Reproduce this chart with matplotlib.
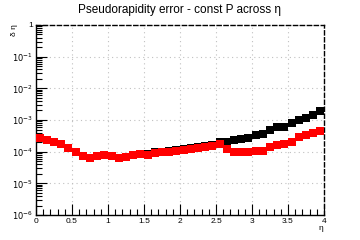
import numpy as np
import matplotlib
matplotlib.use("Agg")
import matplotlib.pyplot as plt
from matplotlib.ticker import FixedLocator, FixedFormatter, LogLocator, NullFormatter, MultipleLocator

plt.rcParams['font.family'] = ['Liberation Sans', 'DejaVu Sans']

eta = np.arange(40) * 0.1 + 0.05

red = [2.70e-4, 2.34e-4, 2.02e-4, 1.75e-4, 1.31e-4, 9.8e-5, 7.3e-5, 6.3e-5, 7.3e-5, 7.9e-5,
       7.3e-5, 6.3e-5, 6.8e-5, 7.9e-5, 8.5e-5, 7.9e-5, 9.1e-5, 9.8e-5, 9.8e-5, 1.05e-4,
       1.13e-4, 1.21e-4, 1.31e-4, 1.41e-4, 1.51e-4, 1.75e-4, 1.21e-4, 9.8e-5, 9.8e-5, 9.8e-5,
       1.05e-4, 1.05e-4, 1.41e-4, 1.63e-4, 1.75e-4, 2.02e-4, 2.90e-4, 3.36e-4, 3.89e-4, 4.50e-4]

black = [2.70e-4, 2.34e-4, 2.02e-4, 1.75e-4, 1.31e-4, 9.8e-5, 7.3e-5, 6.3e-5, 7.3e-5, 7.9e-5,
         7.3e-5, 6.3e-5, 6.8e-5, 7.9e-5, 8.5e-5, 8.2e-5, 9.8e-5, 1.01e-4, 1.05e-4, 1.13e-4,
         1.21e-4, 1.31e-4, 1.41e-4, 1.51e-4, 1.63e-4, 2.02e-4, 2.02e-4, 2.34e-4, 2.51e-4, 2.70e-4,
         3.36e-4, 3.62e-4, 4.84e-4, 6.0e-4, 6.0e-4, 8.05e-4, 1.0e-3, 1.16e-3, 1.44e-3, 1.92e-3]

xticks = [0, 0.5, 1, 1.5, 2, 2.5, 3, 3.5, 4]
xticklabels = ['0', '0.5', '1', '1.5', '2', '2.5', '3', '3.5', '4']
yticks = [1e-6, 1e-5, 1e-4, 1e-3, 1e-2, 1e-1, 1]
yticklabels = [r'$10^{-6}$', r'$10^{-5}$', r'$10^{-4}$', r'$10^{-3}$', r'$10^{-2}$', r'$10^{-1}$', '1']

fig = plt.figure(figsize=(3.6, 2.4), dpi=100)
ax = fig.add_axes([0.1, 0.104, 0.8, 0.792])

ax.plot(eta, black, 's', color='black', markersize=5.8, markeredgewidth=0, zorder=3)
ax.plot(eta, red, 's', color='red', markersize=5.8, markeredgewidth=0, zorder=4)

ax.set_yscale('log')
ax.set_xlim(0, 4)
ax.set_ylim(1e-6, 1)

ax.xaxis.set_major_locator(FixedLocator(xticks))
ax.xaxis.set_major_formatter(FixedFormatter(xticklabels))
ax.xaxis.set_minor_locator(MultipleLocator(0.1))
ax.yaxis.set_major_locator(FixedLocator(yticks))
ax.yaxis.set_major_formatter(FixedFormatter(yticklabels))
ax.yaxis.set_minor_locator(LogLocator(base=10, subs=np.arange(2, 10), numticks=20))
ax.yaxis.set_minor_formatter(NullFormatter())

ax.tick_params(which='both', direction='in', top=False, right=False, labelsize=6, pad=2)
ax.tick_params(which='major', length=8, width=0.8)
ax.tick_params(which='minor', length=4, width=0.8)

ax.grid(True, which='major', color='#c0c0c0', linestyle=(0, (1, 3)), linewidth=0.8)

for side in ['top', 'right']:
    ax.spines[side].set_linestyle((0, (3, 2)))
    ax.spines[side].set_linewidth(1.0)
for side in ['left', 'bottom']:
    ax.spines[side].set_linewidth(1.0)

fig.text(0.5, 0.958, 'Pseudorapidity error - const P across η', ha='center', va='center', fontsize=8.5)
fig.text(0.04, 0.875, 'δ η', rotation=90, ha='center', va='center', fontsize=6)
fig.text(0.89, 0.05, 'η', ha='center', va='center', fontsize=6)

fig.savefig('out.png', dpi=100)
